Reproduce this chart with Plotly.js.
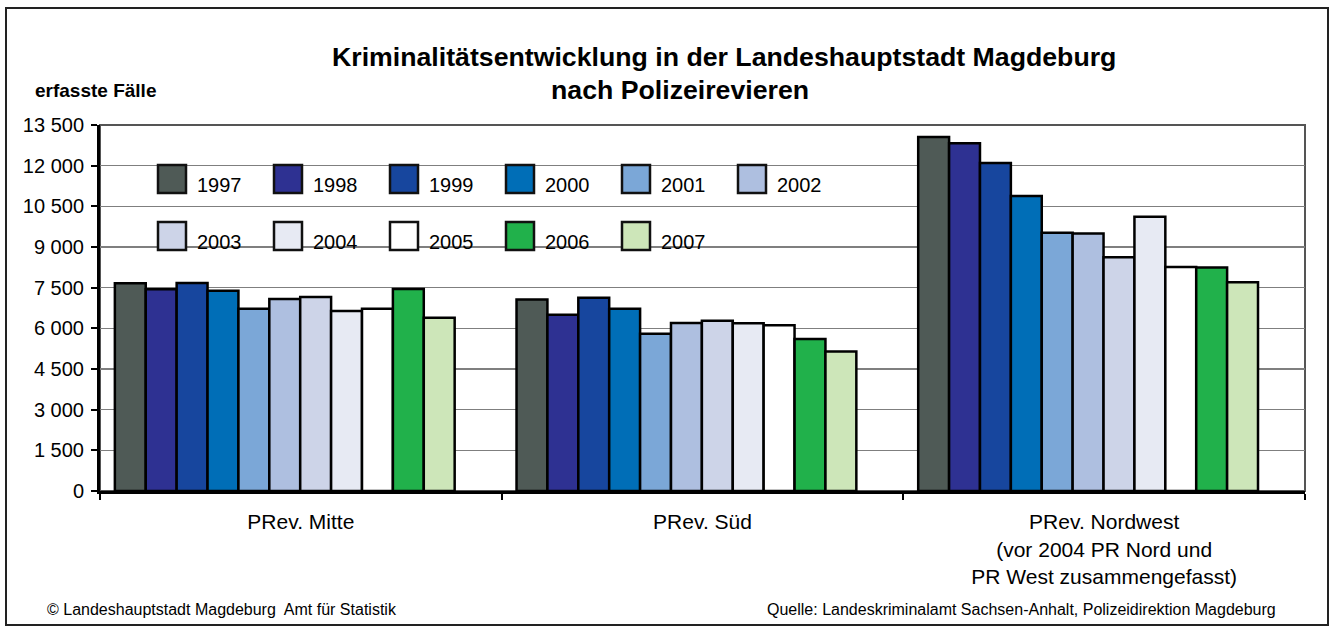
<!DOCTYPE html>
<html>
<head>
<meta charset="utf-8">
<script src="https://cdn.plot.ly/plotly-3.0.1.min.js"></script>
<style>
  html, body { margin: 0; padding: 0; background: #fff; }
  #chart { width: 1332px; height: 630px; }
  #frame { position: absolute; left: 5px; top: 7px; width: 1320px; height: 615px;
           border: 2px solid #222; pointer-events: none; }
</style>
</head>
<body>
<div id="chart"></div>
<div id="frame"></div>
<script>
// ---- data ----
const categories = ['PRev. Mitte', 'PRev. Süd', 'PRev. Nordwest<br>(vor 2004 PR Nord und<br>PR West zusammengefasst)'];
const years = ['1997', '1998', '1999', '2000', '2001', '2002', '2003', '2004', '2005', '2006', '2007'];
const v1997 = [7660, 7060, 13060];
const v1998 = [7440, 6500, 12830];
const v1999 = [7670, 7130, 12100];
const v2000 = [7390, 6720, 10880];
const v2001 = [6720, 5800, 9530];
const v2002 = [7080, 6200, 9500];
const v2003 = [7160, 6280, 8620];
const v2004 = [6640, 6190, 10120];
const v2005 = [6720, 6110, 8260];
const v2006 = [7450, 5610, 8240];
const v2007 = [6390, 5150, 7700];
const yTicks = [0, 1500, 3000, 4500, 6000, 7500, 9000, 10500, 12000, 13500];
const titleLine1 = 'Kriminalitätsentwicklung in der Landeshauptstadt Magdeburg';
const titleLine2 = 'nach Polizeirevieren';
const yLabel = 'erfasste Fälle';
const footLeft = '© Landeshauptstadt Magdeburg  Amt für Statistik';
const footRight = 'Quelle: Landeskriminalamt Sachsen-Anhalt, Polizeidirektion Magdeburg';

// ---- styles ----
const seriesValues = [v1997, v1998, v1999, v2000, v2001, v2002, v2003, v2004, v2005, v2006, v2007];
const colors = ['#4F5A56', '#2E3192', '#17469E', '#006EB7', '#7BA7D7', '#AEBFE0',
                '#CDD4E8', '#E7EAF3', '#FFFFFF', '#21B14B', '#CDE6B9'];
const FONT = '"Liberation Sans", Arial, Helvetica, sans-serif';

const W = 1332, H = 630;
const M = { l: 100, r: 27, t: 125, b: 139 };
const PW = W - M.l - M.r, PH = H - M.t - M.b;
const px = x => (x - M.l) / PW;
const py = y => (H - M.b - y) / PH;

// group occupies ~84.6% of each category, shifted slightly left (as in the original)
const groupW = 0.846, groupShift = -0.04;
const barW = groupW / years.length;

const traces = years.map((yr, i) => ({
  type: 'bar',
  name: yr,
  x: categories,
  y: seriesValues[i],
  width: barW,
  offset: -groupW / 2 + groupShift + i * barW,
  marker: { color: colors[i], line: { color: '#000', width: 2.5 } },
  showlegend: false,
  hoverinfo: 'x+y+name'
}));

// custom legend (large square swatches)
const shapes = [];
const annotations = [];
const legX0 = 158, legStep = 116, legY0 = 165, legRow = 57, sw = 28, perRow = 6;
years.forEach((yr, i) => {
  const r = Math.floor(i / perRow), c = i % perRow;
  const x0 = legX0 + c * legStep, y0 = legY0 + r * legRow;
  shapes.push({ type: 'rect', xref: 'paper', yref: 'paper',
    x0: px(x0), x1: px(x0 + sw), y0: py(y0), y1: py(y0 + sw),
    fillcolor: colors[i], line: { color: '#111', width: 2.5 }, layer: 'above' });
  annotations.push({ xref: 'paper', yref: 'paper', x: px(x0 + sw + 9), y: py(y0 + sw / 2 + 6),
    xanchor: 'left', yanchor: 'middle', text: yr, showarrow: false,
    font: { family: FONT, size: 20, color: '#000' } });
});

// plot-area border (top/right)
shapes.push({ type: 'rect', xref: 'paper', yref: 'paper', x0: 0, x1: 1, y0: 0, y1: 1,
  line: { color: '#555', width: 2 }, layer: 'below' });

annotations.push({ xref: 'paper', yref: 'paper', x: px(724), y: py(57), xanchor: 'center', yanchor: 'middle',
  text: '<b>' + titleLine1 + '</b>', showarrow: false, font: { family: FONT, size: 26.7, color: '#000' } });
annotations.push({ xref: 'paper', yref: 'paper', x: px(680), y: py(90), xanchor: 'center', yanchor: 'middle',
  text: '<b>' + titleLine2 + '</b>', showarrow: false, font: { family: FONT, size: 26.7, color: '#000' } });
annotations.push({ xref: 'paper', yref: 'paper', x: px(33), y: py(90), xanchor: 'left', yanchor: 'middle',
  text: '<b>' + yLabel + '</b>', showarrow: false, font: { family: FONT, size: 19, color: '#000' } });
annotations.push({ xref: 'paper', yref: 'paper', x: px(45), y: py(609), xanchor: 'left', yanchor: 'middle',
  text: footLeft, showarrow: false, font: { family: FONT, size: 16, color: '#000' } });
annotations.push({ xref: 'paper', yref: 'paper', x: px(1278), y: py(609), xanchor: 'right', yanchor: 'middle',
  text: footRight, showarrow: false, font: { family: FONT, size: 16, color: '#000' } });

const layout = {
  width: W, height: H,
  margin: M,
  paper_bgcolor: '#fff', plot_bgcolor: '#fff',
  separators: ', ',
  barmode: 'overlay',
  font: { family: FONT, size: 20, color: '#000' },
  xaxis: {
    type: 'category',
    tickson: 'boundaries',
    ticks: 'outside', ticklen: 6, tickwidth: 2, tickcolor: '#000',
    showline: true, linecolor: '#000', linewidth: 3,
    showgrid: false,
    ticklabelstandoff: 10,
    tickfont: { family: FONT, size: 21, color: '#000' },
    fixedrange: true
  },
  yaxis: {
    range: [0, 13500],
    tickvals: yTicks,
    tickformat: ',d',
    ticks: 'outside', ticklen: 6, tickwidth: 2, tickcolor: '#000',
    showline: true, linecolor: '#000', linewidth: 3,
    showgrid: true, gridcolor: '#7f7f7f', gridwidth: 1.5,
    zeroline: false,
    ticklabelstandoff: 3,
    tickfont: { family: FONT, size: 20, color: '#000' },
    fixedrange: true
  },
  shapes: shapes,
  annotations: annotations
};

Plotly.newPlot('chart', traces, layout, { displayModeBar: false, staticPlot: true });
</script>
</body>
</html>
